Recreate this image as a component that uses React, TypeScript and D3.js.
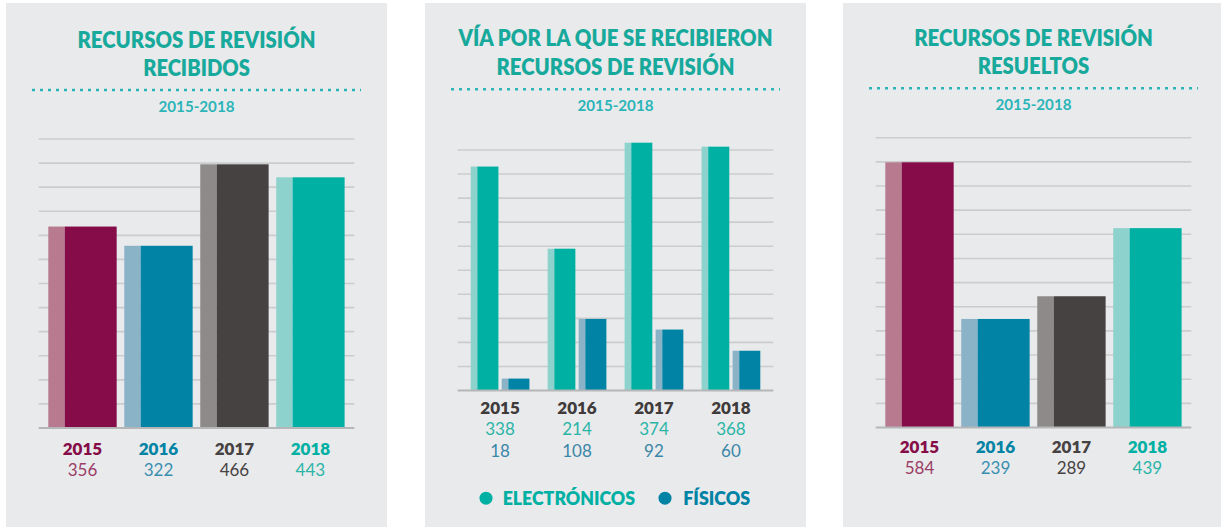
import React from "react";
import * as d3 from "d3";

// ---------- data ----------
const years = ["2015", "2016", "2017", "2018"];
const recibidos = [356, 322, 466, 443];
const electronicos = [338, 214, 374, 368];
const fisicos = [18, 108, 92, 60];
const resueltos = [584, 239, 289, 439];
const subtitle = "2015-2018";
const legendLabels = ["ELECTRÓNICOS", "FÍSICOS"];

// ---------- styles ----------
const yearDark = ["#850c48", "#0083a4", "#474242", "#00b0a3"];
const yearLight = ["#b77a8f", "#8ab3c8", "#8e8a89", "#8dd2cc"];
const yearValueColor = ["#9b3d66", "#3a8fb0", "#474242", "#2ab5a6"];
const elecDark = "#00b0a3";
const elecLight = "#8dd2cc";
const fisDark = "#0083a4";
const fisLight = "#8ab3c8";
const titleColor = "#17a99b";
const subColor = "#2bb5b8";
const gridColor = "#cbcccd";
const baseColor = "#b5b6b8";
const panelBg = "#e9eaec";
const FONT = "Lato, 'Open Sans', sans-serif";

const PW = 381;
const LIGHT_FRAC = 0.24;

function Header({ left, lines, widths, baselines, dotY, subY }) {
  const cx = left + PW / 2;
  return (
    <g>
      {lines.map((t, i) => (
        <text
          key={i}
          x={cx}
          y={baselines[i]}
          textAnchor="middle"
          fontFamily={FONT}
          fontWeight={800}
          fontSize={22}
          fill={titleColor}
          textLength={widths[i]}
          lengthAdjust="spacingAndGlyphs"
        >
          {t}
        </text>
      ))}
      <line
        x1={left + 26}
        x2={left + PW - 26}
        y1={dotY}
        y2={dotY}
        stroke={subColor}
        strokeWidth={2.6}
        strokeDasharray="3,5"
      />
      <text
        x={cx}
        y={subY}
        textAnchor="middle"
        fontFamily={FONT}
        fontWeight={700}
        fontSize={15}
        fill={subColor}
        textLength={76}
        lengthAdjust="spacingAndGlyphs"
      >
        {subtitle}
      </text>
    </g>
  );
}

function Grid({ left, top, base, n }) {
  const step = (base - top) / n;
  const ys = d3.range(n).map((i) => top + i * step);
  return (
    <g>
      {ys.map((y, i) => (
        <line key={i} x1={left + 32.7} x2={left + 348.3} y1={y} y2={y} stroke={gridColor} strokeWidth={1.6} />
      ))}
    </g>
  );
}

function Baseline({ left, base }) {
  return <line x1={left + 32.7} x2={left + 348.3} y1={base} y2={base} stroke={baseColor} strokeWidth={2.2} />;
}

function TwoToneBar({ x, w, y, h, light, dark }) {
  const lw = w * LIGHT_FRAC;
  return (
    <g>
      <rect x={x} y={y} width={lw} height={h} fill={light} />
      <rect x={x + lw} y={y} width={w - lw} height={h} fill={dark} />
    </g>
  );
}

function YearPanel({ left, values, base, topVal, topY, gridTop, gridN, titleLines, titleWidths, baselines, dotY, subY, yearY, valY }) {
  const y = d3.scaleLinear().domain([0, topVal]).range([base, topY]);
  const x = d3.scaleBand().domain(years).range([left + 42.3, left + 338.6]).paddingInner(0.1).paddingOuter(0);
  return (
    <g>
      <rect x={left} y={3} width={PW} height={530} fill={panelBg} />
      <Header left={left} lines={titleLines} widths={titleWidths} baselines={baselines} dotY={dotY} subY={subY} />
      <Grid left={left} top={gridTop} base={base} n={gridN} />
      {years.map((yr, i) => (
        <TwoToneBar
          key={yr}
          x={x(yr)}
          w={x.bandwidth()}
          y={y(values[i])}
          h={base - y(values[i])}
          light={yearLight[i]}
          dark={yearDark[i]}
        />
      ))}
      <Baseline left={left} base={base} />
      {years.map((yr, i) => (
        <g key={yr}>
          <text x={x(yr) + x.bandwidth() / 2} y={yearY} textAnchor="middle" fontFamily={FONT} fontWeight={800} fontSize={17} fill={yearDark[i]}>
            {yr}
          </text>
          <text x={x(yr) + x.bandwidth() / 2} y={valY} textAnchor="middle" fontFamily={FONT} fontWeight={400} fontSize={17} fill={yearValueColor[i]}>
            {values[i]}
          </text>
        </g>
      ))}
    </g>
  );
}

function ViaPanel({ left }) {
  const base = 390.5;
  const y = d3.scaleLinear().domain([0, 374]).range([base, 142.7]);
  const x = d3.scaleBand().domain(years).range([left + 45.7, left + 335.3]).paddingInner(0.237).paddingOuter(0);
  const inner = d3.scaleBand().domain(["e", "f"]).range([0, x.bandwidth()]).paddingInner(0.106).paddingOuter(0);
  const series = [
    { key: "e", vals: electronicos, light: elecLight, dark: elecDark, text: "#2ab5a6" },
    { key: "f", vals: fisicos, light: fisLight, dark: fisDark, text: "#3a87a8" },
  ];
  const legend = [
    { cx: left + 61, tx: left + 77.7, w: 132.3, color: elecDark, label: legendLabels[0] },
    { cx: left + 240, tx: left + 258.3, w: 66.7, color: fisDark, label: legendLabels[1] },
  ];
  return (
    <g>
      <rect x={left} y={3} width={PW} height={530} fill={panelBg} />
      <Header
        left={left}
        lines={["VÍA POR LA QUE SE RECIBIERON", "RECURSOS DE REVISIÓN"]}
        widths={[314, 238]}
        baselines={[46.3, 75]}
        dotY={89.2}
        subY={111}
      />
      <Grid left={left} top={150} base={base} n={10} />
      {years.map((yr, i) =>
        series.map((s) => (
          <TwoToneBar
            key={yr + s.key}
            x={x(yr) + inner(s.key)}
            w={inner.bandwidth()}
            y={y(s.vals[i])}
            h={base - y(s.vals[i])}
            light={s.light}
            dark={s.dark}
          />
        ))
      )}
      <Baseline left={left} base={base} />
      {years.map((yr, i) => (
        <g key={yr}>
          <text x={x(yr) + x.bandwidth() / 2} y={413.5} textAnchor="middle" fontFamily={FONT} fontWeight={800} fontSize={17} fill="#3f3b3b">
            {yr}
          </text>
          {series.map((s, j) => (
            <text key={s.key} x={x(yr) + x.bandwidth() / 2} y={435.3 + j * 21.5} textAnchor="middle" fontFamily={FONT} fontWeight={400} fontSize={17} fill={s.text}>
              {s.vals[i]}
            </text>
          ))}
        </g>
      ))}
      {legend.map((l) => (
        <g key={l.label}>
          <circle cx={l.cx} cy={498.2} r={6.5} fill={l.color} />
          <text x={l.tx} y={505} fontFamily={FONT} fontWeight={800} fontSize={19} fill={l.color} textLength={l.w} lengthAdjust="spacingAndGlyphs">
            {l.label}
          </text>
        </g>
      ))}
    </g>
  );
}

export default function App() {
  return (
    <svg width={1221} height={527} style={{ position: "absolute", left: 0, top: 0, background: "#fff" }}>
      <rect x={0} y={0} width={1221} height={527} fill="#fff" />
      <YearPanel
        left={6}
        values={recibidos}
        base={428}
        topVal={466}
        topY={164.3}
        gridTop={139}
        gridN={12}
        titleLines={["RECURSOS DE REVISIÓN", "RECIBIDOS"]}
        titleWidths={[238, 106.7]}
        baselines={[47.8, 76]}
        dotY={90}
        subY={112}
        yearY={455}
        valY={476.3}
      />
      <ViaPanel left={425} />
      <YearPanel
        left={843}
        values={resueltos}
        base={427.5}
        topVal={584}
        topY={162.3}
        gridTop={137.7}
        gridN={12}
        titleLines={["RECURSOS DE REVISIÓN", "RESUELTOS"]}
        titleWidths={[238.7, 111.6]}
        baselines={[45.5, 74]}
        dotY={88.2}
        subY={110}
        yearY={452.8}
        valY={474}
      />
    </svg>
  );
}
